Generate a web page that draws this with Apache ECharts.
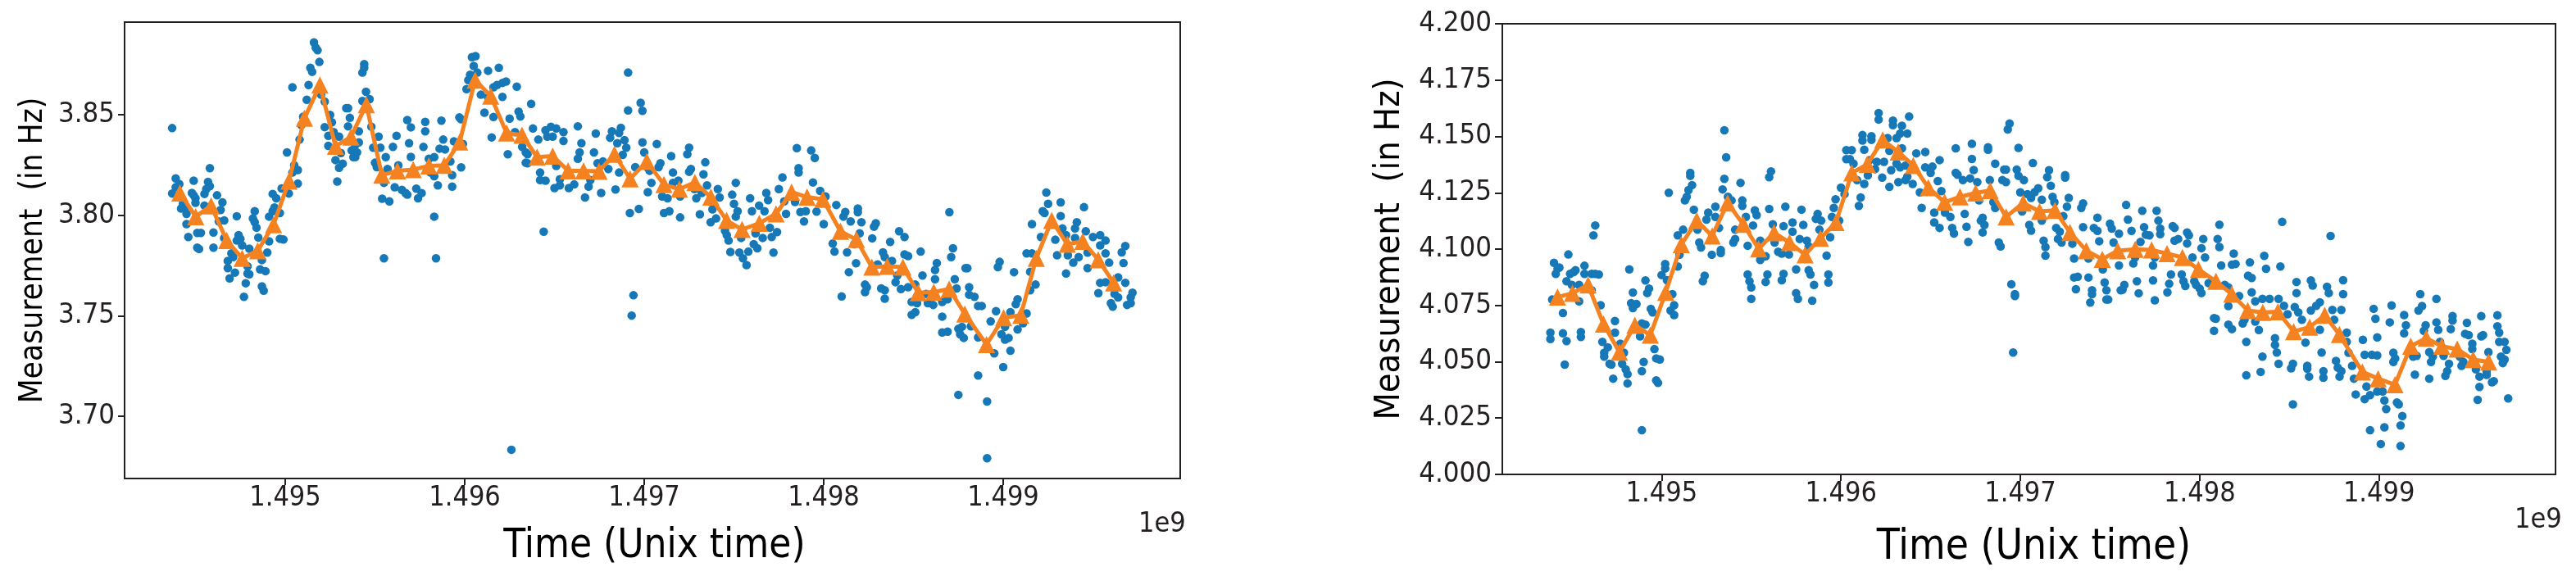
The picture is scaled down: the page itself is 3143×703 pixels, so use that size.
<!DOCTYPE html>
<html><head><meta charset="utf-8">
<style>html,body{margin:0;padding:0;background:#fff}#c{width:3143px;height:703px}</style>
<script src="https://cdn.jsdelivr.net/npm/echarts@6/dist/echarts.min.js"></script>
</head><body><div id="c"></div>
<script>
const xTicks=[1.495,1.496,1.497,1.498,1.499];
const leftYTicks=[3.70,3.75,3.80,3.85];
const rightYTicks=[4.000,4.025,4.050,4.075,4.100,4.125,4.150,4.175,4.200];

const leftMeanTime=[1.494413,1.494501,1.494587,1.494674,1.494760,1.494846,1.494935,1.495021,1.495107,1.495193,1.495280,1.495366,1.495452,1.495538,1.495625,1.495713,1.495800,1.495886,1.495972,1.496058,1.496145,1.496233,1.496319,1.496403,1.496490,1.496576,1.496662,1.496748,1.496834,1.496921,1.497014,1.497110,1.497196,1.497282,1.497371,1.497459,1.497545,1.497641,1.497734,1.497821,1.497907,1.497995,1.498093,1.498182,1.498268,1.498354,1.498441,1.498527,1.498613,1.498699,1.498786,1.498907,1.499002,1.499098,1.499184,1.499270,1.499357,1.499443,1.499529,1.499615];
const leftMeanHz=[3.8111,3.7993,3.8047,3.7874,3.7786,3.7823,3.7953,3.8170,3.8482,3.8647,3.8343,3.8389,3.8550,3.8199,3.8221,3.8227,3.8245,3.8248,3.8364,3.8672,3.8592,3.8409,3.8398,3.8289,3.8294,3.8221,3.8221,3.8219,3.8303,3.8181,3.8267,3.8152,3.8130,3.8163,3.8090,3.7974,3.7929,3.7960,3.8007,3.8115,3.8090,3.8079,3.7920,3.7879,3.7742,3.7746,3.7742,3.7615,3.7618,3.7633,3.7509,3.7357,3.7490,3.7503,3.7786,3.7974,3.7856,3.7870,3.7779,3.7664];

const rightMeanTime=[1.494420,1.494503,1.494590,1.494676,1.494765,1.494851,1.494937,1.495023,1.495110,1.495196,1.495282,1.495368,1.495455,1.495541,1.495627,1.495713,1.495800,1.495886,1.495972,1.496061,1.496147,1.496233,1.496319,1.496403,1.496487,1.496578,1.496664,1.496751,1.496832,1.496921,1.497016,1.497107,1.497193,1.497277,1.497368,1.497457,1.497543,1.497641,1.497732,1.497818,1.497904,1.497993,1.498091,1.498179,1.498268,1.498352,1.498436,1.498524,1.498613,1.498697,1.498779,1.498907,1.498995,1.499089,1.499177,1.499263,1.499350,1.499436,1.499525,1.499611];
const rightMeanHz=[4.0787,4.0804,4.0841,4.0667,4.0543,4.0662,4.0618,4.0808,4.1020,4.1126,4.1058,4.1205,4.1110,4.1001,4.1073,4.1029,4.0975,4.1048,4.1118,4.1338,4.1376,4.1485,4.1431,4.1371,4.1273,4.1208,4.1232,4.1249,4.1260,4.1143,4.1205,4.1167,4.1172,4.1074,4.0993,4.0955,4.0993,4.0999,4.0996,4.0980,4.0963,4.0910,4.0857,4.0800,4.0727,4.0719,4.0722,4.0634,4.0654,4.0706,4.0621,4.0455,4.0425,4.0398,4.0569,4.0605,4.0569,4.0556,4.0510,4.0499];

const leftDotTime=[1.49437,1.49439,1.49441,1.49437,1.49439,1.49442,1.49444,1.49445,1.49446,1.49443,1.49445,1.49449,1.49448,1.49449,1.4945,1.4945,1.49451,1.49453,1.49451,1.49452,1.49455,1.49457,1.49458,1.49456,1.49458,1.49455,1.49462,1.49465,1.49464,1.49463,1.49466,1.4946,1.4946,1.49466,
1.4947,1.49471,1.49468,1.49468,1.49469,1.49472,1.49473,1.49474,1.49473,1.49475,1.49476,1.49477,1.49478,1.49479,1.4948,1.49479,1.4948,1.49483,1.49482,1.49483,1.49484,1.49485,1.4949,1.49487,1.49486,1.49489,1.49487,1.49488,1.49491,
1.49493,1.49495,1.49494,1.49493,1.49497,1.49491,1.49497,1.49499,1.49501,1.49498,1.49502,1.49504,1.49508,1.49505,1.49507,1.49504,1.49507,1.4951,1.49509,
1.49512,1.49513,1.49514,1.49515,1.49516,1.49517,1.49518,1.49519,1.4952,1.49522,1.49525,1.49526,1.49522,1.49524,1.49527,1.4953,1.49524,1.49531,1.49528,1.4953,1.49532,1.49529,
1.49534,1.49535,1.49536,1.49535,1.49541,1.49541,1.49539,1.49537,1.4954,1.49538,1.49539,1.49543,1.49544,1.49544,1.49543,1.49545,1.49547,1.49548,1.49549,1.49552,1.49553,
1.4955,1.49551,1.49555,1.49556,1.49554,1.49558,1.49555,1.4956,1.49562,1.49557,1.49561,1.49565,1.49567,1.49568,1.49563,1.49568,1.4957,1.49569,1.4957,1.49577,1.49578,1.49578,1.49587,1.49588,1.49586,1.49589,1.49583,1.49584,1.49585,1.49583,1.49581,1.49574,1.49573,1.49576,1.4958,1.49583,1.49592,1.49593,1.49593,1.49598,1.49597,1.49598,1.49594,1.49599,
1.49601,1.49602,1.49603,1.49604,1.49606,1.49605,1.49607,1.49613,1.49619,1.49609,1.49613,1.49616,1.49618,1.49621,1.49623,1.49629,1.49621,1.49611,1.49616,1.49615,1.49625,1.4963,1.49631,1.49637,1.49624,1.49628,1.49632,1.49634,1.49635,1.49634,1.49635,1.49638,1.49641,1.49644,1.49626,
1.49645,1.49648,1.49651,1.49655,1.49646,1.49649,1.49655,1.49663,1.49673,1.49665,1.49664,1.49663,1.49642,1.49642,1.49645,1.4965,1.49653,1.49653,1.49651,1.49658,1.49661,1.49667,1.49669,1.4967,1.49674,1.49677,1.49676,1.49684,1.49686,1.4968,1.49672,1.49681,1.49682,1.49686,1.49687,1.49685,1.49689,1.4969,1.49688,1.49691,1.49691,1.49692,1.49697,1.49694,1.49693,1.49698,1.49699,1.49695,1.49699,1.49702,1.497,
1.49707,1.49715,1.49703,1.49704,1.49702,1.49709,1.49708,1.49716,1.49716,1.4971,1.49713,1.49711,1.49714,1.4972,1.4972,1.49719,1.49725,1.49724,1.49726,1.49725,1.49734,1.49733,1.49728,1.49729,1.49732,1.49731,1.49735,
1.49741,1.49742,1.49738,1.4974,1.49737,1.49751,1.49749,1.4975,1.49752,1.49751,1.49745,1.49746,1.49748,1.49747,1.49753,1.49758,1.49755,1.49757,1.49754,1.49759,1.4976,1.49761,1.49763,1.49766,1.49764,1.49768,1.49769,1.49767,1.49762,1.49771,1.49772,1.49774,1.4977,1.49775,1.49777,1.49779,1.49778,
1.49785,1.49786,1.49786,1.49784,1.49787,1.4979,1.49789,1.49793,1.49795,1.49794,1.49798,1.49801,1.49796,1.498,1.49805,1.49807,1.49812,1.49811,1.49806,1.49813,1.4981,1.49814,1.49818,1.49819,1.49819,1.49815,1.49821,1.4982,1.49817,
1.49829,1.49828,1.49827,1.49833,1.49834,1.4983,1.49842,1.49845,1.49837,1.49838,1.49847,1.49845,1.49854,1.49823,1.49824,1.49823,1.49832,1.49834,1.49834,1.49841,1.4984,1.49843,1.49847,
1.49855,1.49851,1.49863,1.49862,1.49862,1.49857,1.49852,1.49849,1.49858,1.49861,1.49851,1.49849,1.49866,1.4987,1.49872,1.49871,1.49879,1.4988,1.49873,1.49874,1.49869,1.49866,1.49881,1.49881,1.49884,1.49886,1.49888,1.49866,1.49869,1.49875,1.49877,1.49876,1.49878,1.49882,1.49886,
1.49875,1.49886,1.49891,1.49891,1.49895,1.499,1.49904,1.49896,1.49893,1.49898,1.49897,1.49906,1.49915,1.49913,1.49916,1.49916,1.49908,1.49907,1.49913,1.49904,1.49901,1.49899,1.49901,1.49903,1.49908,1.49911,
1.49918,1.49915,1.49921,1.49922,1.49923,1.49925,1.49924,1.49932,1.49932,1.49933,1.49935,1.49929,1.4993,1.49936,1.49935,1.49939,1.49942,1.49941,1.4994,1.49946,1.49945,1.4994,1.49947,1.49947,1.4995,1.49954,1.49957,1.49954,1.49957,1.49959,1.49953,1.49954,1.49957,1.49964,1.49967,1.49966,1.49968,1.49968,1.49972,1.49971,1.49971,1.49969,1.49964,1.49962,1.4996,1.49961];
const leftDotHz=[3.8433,3.8183,3.8155,3.8108,3.8139,3.8033,3.8033,3.7956,3.7892,3.8057,3.8007,3.8172,3.8111,3.8099,3.8084,3.8062,3.7912,3.7912,3.7839,3.7832,3.8106,3.8166,3.8234,3.8130,3.8144,3.8048,3.8099,3.8064,3.8026,3.7969,3.7974,3.7914,3.7839,3.7887,
3.7810,3.7792,3.7773,3.7737,3.7686,3.7715,3.7995,3.7901,3.7874,3.7883,3.7850,3.7594,3.7662,3.7710,3.7706,3.7746,3.7834,3.8020,3.7984,3.7965,3.7938,3.7889,3.7814,3.7777,3.7731,3.7722,3.7646,3.7625,3.7870,
3.8106,3.8084,3.8038,3.8020,3.8011,3.7993,3.7883,3.7879,3.8312,3.8133,3.8108,3.8636,3.8376,3.8248,3.8225,3.8212,3.8157,3.8490,3.8449,
3.8574,3.8647,3.8733,3.8713,3.8859,3.8833,3.8820,3.8762,3.8599,3.8565,3.8499,3.8462,3.8438,3.8395,3.8413,3.8391,3.8345,3.8309,3.8274,3.8236,3.8256,3.8168,
3.8532,3.8532,3.8484,3.8442,3.8417,3.8362,3.8349,3.8322,3.8312,3.8289,3.8289,3.8568,3.8751,3.8733,3.8709,3.8614,3.8577,3.8440,3.8336,3.8391,3.8336,
3.8261,3.8239,3.8161,3.8289,3.8082,3.8069,3.7786,3.8340,3.8395,3.8230,3.8139,3.8126,3.8111,3.8102,3.8248,3.8473,3.8437,3.8358,3.8290,3.8340,3.8464,3.8417,3.8470,3.8376,3.8331,3.8327,3.7993,3.7786,3.8148,3.8194,3.8212,3.8084,3.8132,3.8110,3.8281,3.8289,3.8267,3.8199,3.8142,3.8238,3.8486,3.8477,3.8367,3.8354,
3.8627,3.8672,3.8698,3.8786,3.8791,3.8742,3.8709,3.8718,3.8733,3.8599,3.8586,3.8636,3.8647,3.8658,3.8665,3.8639,3.8588,3.8510,3.8488,3.8387,3.8480,3.8515,3.8491,3.8554,3.8303,3.8413,3.8340,3.8312,3.8303,3.8261,3.8258,3.8431,3.8376,3.7918,3.6834,
3.8422,3.8440,3.8431,3.8413,3.8391,3.8391,3.8369,3.8442,3.8406,3.8358,3.8312,3.8281,3.8212,3.8175,3.8172,3.8135,3.8148,3.8179,3.8245,3.8135,3.8153,3.8088,3.8142,3.8175,3.8258,3.8267,3.8111,3.8128,3.8212,3.8230,3.8312,3.8385,3.8417,3.8409,3.8435,3.8358,3.8373,3.8336,3.8300,3.8709,3.8521,3.8011,3.8031,3.7602,3.7501,3.8559,3.8519,3.8239,3.8362,3.8236,3.8312,
3.8354,3.8294,3.8221,3.8161,3.8115,3.8258,3.8239,3.8212,3.8161,3.8093,3.8084,3.8011,3.8020,3.7989,3.8093,3.8172,3.8336,3.8303,3.8230,3.8216,3.8263,3.8203,3.8130,3.8084,3.8111,3.8005,3.8148,
3.8130,3.8088,3.8029,3.7984,3.7965,3.8161,3.8102,3.8057,3.8020,3.7993,3.7923,3.7901,3.7817,3.7874,3.7814,3.7819,3.7786,3.7752,3.7887,3.8084,3.8020,3.7856,3.7836,3.7887,3.8048,3.8111,3.8075,3.8020,3.7910,3.7892,3.7814,3.7916,3.7938,3.8130,3.8188,3.8007,3.8069,
3.8334,3.8234,3.8212,3.8066,3.8016,3.8020,3.7969,3.8322,3.8285,3.8163,3.8121,3.8093,3.8018,3.7956,3.7859,3.8051,3.8016,3.7993,3.7819,3.7815,3.7596,3.7717,3.7761,3.8033,3.8015,3.7969,3.7965,3.7910,3.7856,
3.7960,3.7943,3.7885,3.7815,3.7792,3.7755,3.7920,3.7892,3.7867,3.7773,3.7797,3.7805,3.7819,3.7655,3.7642,3.7618,3.7636,3.7627,3.7585,3.7700,3.7667,3.7633,3.7642,
3.7700,3.7655,3.7762,3.7728,3.7682,3.7609,3.7563,3.7569,3.7563,3.7554,3.7518,3.7505,3.7496,3.8015,3.7836,3.7792,3.7737,3.7737,3.7682,3.7636,3.7582,3.7569,3.7642,3.7605,3.7594,3.7549,3.7549,3.7417,3.7421,3.7435,3.7445,3.7408,3.7390,3.7448,3.7393,
3.7107,3.7203,3.7074,3.6792,3.7313,3.7245,3.7326,3.7523,3.7472,3.7768,3.7742,3.7717,3.7719,3.7810,3.7810,3.7956,3.7582,3.7558,3.7512,3.7518,3.7445,3.7408,3.7381,3.7390,3.7432,3.7463,
3.7655,3.7627,3.7892,3.8020,3.8011,3.8057,3.8113,3.8064,3.7996,3.7934,3.7901,3.7878,3.7801,3.7801,3.7710,3.7764,3.7792,3.7965,3.7934,3.7920,3.8040,3.7887,3.7814,3.7737,3.7892,3.7901,3.7874,3.7850,3.7810,3.7764,3.7613,3.7664,3.7667,3.7691,3.7762,3.7815,3.7847,3.7664,3.7615,3.7591,3.7563,3.7554,3.7591,3.7609,3.7563,3.7545];

const rightDotTime=[1.49438,1.49438,1.49439,1.4944,1.49441,1.49442,1.49443,1.49448,1.49445,1.49445,1.49447,1.49446,1.49455,1.49455,1.49449,1.49451,1.49452,1.49447,1.4945,1.49454,1.49454,1.49457,1.49457,1.49461,1.49463,1.49465,1.49461,1.49463,1.49462,1.49466,
1.49467,1.49468,1.4947,1.49468,1.49471,1.49472,1.49473,1.49474,1.49474,1.49477,1.49479,1.49478,1.4948,1.49481,1.49481,1.49482,1.49484,1.49483,1.49484,1.49486,1.49488,1.49489,1.49491,1.4949,1.49489,1.49489,1.49491,1.49493,1.49492,1.49494,1.49495,1.49496,1.49497,1.49499,1.49497,1.49498,
1.495,1.49502,1.49502,1.49503,1.49504,1.49506,1.49507,1.49505,1.49507,1.49509,1.4951,1.49509,1.49512,1.49513,1.49514,1.49515,1.49516,1.49516,1.49517,1.49518,1.4952,1.49521,1.49522,1.49528,1.49525,1.49526,1.4953,1.4953,1.49532,1.49524,1.49523,1.49533,1.49533,
1.49535,1.49536,1.49535,1.49534,1.49537,1.49539,1.49541,1.49541,1.4954,1.49544,1.49545,1.49545,1.49547,1.49548,1.49551,1.49552,1.49553,1.49548,1.49549,1.4955,1.4955,1.49555,1.49555,1.49558,1.49559,1.49558,1.4956,1.4956,1.49561,1.49562,1.49563,1.49565,1.49568,1.49567,1.49569,1.49568,1.49573,1.49573,1.49567,1.49571,1.49575,1.49575,1.49576,1.49578,1.49579,1.49577,1.49581,1.49582,1.49582,1.49583,1.49585,1.49584,1.49587,1.49586,1.49589,1.49588,1.49592,1.49594,1.49593,1.49593,
1.49597,1.49596,1.49595,1.496,1.49602,1.49599,1.49603,1.49606,1.49603,1.49605,1.49607,1.49609,1.49613,1.49611,1.4961,1.49612,1.49612,1.49613,1.49615,1.49617,1.49617,1.49616,1.4962,1.49621,1.49621,1.49623,1.49619,1.49624,1.49626,1.49627,1.49627,1.49628,1.49629,1.49629,1.49634,1.49631,1.49633,1.49637,1.49638,1.49631,1.49633,1.49636,1.49632,1.49636,1.49637,1.49634,1.49642,1.4964,1.49644,1.49645,1.49647,1.49647,1.49651,1.4965,1.49652,1.49652,1.49654,1.49655,1.49656,1.49658,1.49661,1.49655,1.49662,1.49663,1.49664,1.49664,1.49665,1.49668,1.49669,1.4967,
1.49671,1.49673,1.49673,1.49674,1.49672,1.49676,1.49677,1.49678,1.49679,1.4968,1.49679,1.49682,1.49682,1.49686,1.49683,1.4969,1.49691,1.49692,1.49692,1.49685,1.49686,1.49688,1.49689,1.49693,1.49694,1.49699,1.49698,1.49699,1.49702,1.497,1.49704,1.49701,1.49705,1.49706,1.49695,1.49697,1.49697,1.49696,
1.49707,1.49706,1.49708,1.4971,1.49712,1.49712,1.49713,1.49714,1.49714,1.49716,1.49715,1.49717,1.49718,1.49719,1.49725,1.49725,1.49727,1.49726,1.49724,1.4972,1.49722,1.49721,1.49723,1.49729,1.4973,1.49734,1.49735,1.49735,1.49741,1.49743,1.49743,1.49744,1.49738,1.4973,1.49732,1.49731,1.49738,1.4974,1.4974,1.49739,1.49747,1.49748,1.49748,1.49749,
1.49759,1.4976,1.49762,1.4975,1.49751,1.49755,1.49752,1.49755,1.49746,1.49763,1.49764,1.49768,1.49776,1.49777,1.49769,1.4977,1.49772,1.49778,1.49778,1.49767,1.49765,1.49766,1.49774,1.49775,1.49758,1.49757,1.49756,1.49774,1.49775,
1.49785,1.49786,1.49788,1.49786,1.49793,1.49794,1.49793,1.49784,1.49783,1.49782,1.4979,1.49791,1.49792,1.49796,1.49802,1.49801,1.49803,1.49797,1.49798,1.498,1.49801,1.49805,1.4981,1.49811,1.49811,1.49812,1.49818,1.4982,1.49819,1.49814,1.49816,1.49816,
1.49808,1.49809,1.49808,1.49816,1.49818,1.49824,1.49825,1.49826,1.49828,1.49827,1.49829,1.49836,1.49837,1.49845,1.49846,1.49829,1.49831,1.49831,1.49833,1.49835,1.49839,1.49844,1.49822,1.49826,1.49834,1.49835,1.49842,1.49842,1.49843,1.49844,
1.49847,1.49849,1.49852,1.49851,1.49852,1.49853,1.49854,1.49854,1.49855,1.49859,1.49857,1.4986,1.4986,1.49861,1.49862,1.49863,1.49867,1.49868,1.49869,1.49869,1.49871,1.49872,1.49873,1.4988,1.4988,1.49879,1.49874,1.49867,1.49865,1.49862,1.49875,1.49876,1.49877,1.49878,1.49879,
1.49882,1.49882,1.49883,1.49885,1.49886,1.49887,1.49891,1.49892,1.49892,1.49893,1.49895,1.49896,1.49899,1.49897,1.49898,1.49899,1.49899,1.49902,1.49903,1.49904,1.49895,1.49901,1.49903,1.49907,1.49906,1.49908,1.49909,1.49908,1.4991,1.49911,1.49912,1.49913,1.49912,1.49914,1.49915,1.49914,
1.4992,1.49921,1.49919,1.49923,1.49924,1.49922,1.49926,1.49925,1.49928,1.49928,1.4993,1.49929,1.49932,1.49932,1.49933,1.49934,1.49936,1.49938,1.49937,1.49939,1.4994,1.49941,1.49941,1.49948,1.49949,1.4995,1.49952,1.49952,1.49945,1.49946,1.49947,1.49954,1.49955,1.49956,1.49956,1.49957,1.49958,1.49957,1.4996,1.4996,1.49961,1.49963,1.49964,1.49966,1.49966,1.49967,1.49967,1.4997,1.49971,1.49968,1.4997,1.49969,1.49972];
const rightDotHz=[4.0629,4.0601,4.0776,4.0939,4.0890,4.0914,4.0918,4.0976,4.0716,4.0626,4.0592,4.0487,4.0632,4.0610,4.0890,4.0898,4.0906,4.0857,4.0841,4.0841,4.0768,4.0926,4.0890,4.0890,4.0890,4.0887,4.0817,4.1105,4.1061,4.0751,
4.0588,4.0523,4.0564,4.0540,4.0491,4.0487,4.0425,4.0681,4.0629,4.0580,4.0540,4.0491,4.0466,4.0445,4.0404,4.0910,4.0807,4.0760,4.0738,4.0756,4.0613,4.0670,4.0665,4.0499,4.0458,4.0196,4.0861,4.0825,4.0805,4.0735,4.0719,4.0556,4.0515,4.0510,4.0417,4.0406,
4.0885,4.0934,4.0914,4.0862,4.1250,4.0800,4.0751,4.0727,4.0707,4.0923,4.0975,4.1061,4.1086,4.1216,4.1232,4.1262,4.1338,4.1325,4.1284,4.1175,4.1086,4.1029,4.1007,4.0975,4.1131,4.1162,4.1188,4.1143,4.1094,4.0882,4.0857,4.0996,4.0983,
4.1527,4.1407,4.1312,4.1265,4.1232,4.1216,4.1086,4.1045,4.1029,4.1294,4.1216,4.1192,4.1143,4.1015,4.1105,4.1172,4.1151,4.0887,4.0857,4.0830,4.0779,4.1037,4.0952,4.0968,4.0887,4.0854,4.1178,4.1319,4.1345,4.1110,4.1029,4.0988,4.0890,4.0862,4.1188,4.1102,4.1077,4.1118,4.0980,4.0976,4.0910,4.0805,4.0779,4.1175,4.1107,4.1045,4.1037,4.1012,4.0906,4.0887,4.0841,4.0771,4.1156,4.1134,4.1126,4.1086,4.0971,4.1053,4.0887,4.0852,
4.1221,4.1183,4.1143,4.1273,4.1244,4.1126,4.1439,4.1439,4.1399,4.1399,4.1379,4.1306,4.1289,4.1229,4.1192,4.1506,4.1482,4.1441,4.1327,4.1501,4.1485,4.1395,4.1387,4.1604,4.1575,4.1317,4.1355,4.1387,4.1493,4.1436,4.1276,4.1350,4.1570,4.1550,4.1547,4.1493,4.1513,4.1513,4.1588,4.1379,4.1363,4.1371,4.1297,4.1306,4.1322,4.1447,4.1425,4.1289,4.1252,4.1183,4.1431,4.1363,4.1366,4.1338,4.1162,4.1118,4.1302,4.1395,4.1257,4.1162,4.1143,4.1094,4.1094,4.1069,4.1447,4.1338,4.1330,4.1306,4.1156,4.1099,
4.1032,4.1467,4.1400,4.1351,4.1314,4.1297,4.1216,4.1126,4.1139,4.1107,4.1074,4.1452,4.1441,4.1379,4.1306,4.1306,4.1353,4.1353,4.1297,4.1208,4.1183,4.1029,4.1012,4.1531,4.1557,4.1449,4.1353,4.1325,4.1306,4.1252,4.1244,4.1167,4.1107,4.1082,4.0844,4.0800,4.0792,4.0541,
4.1382,4.1227,4.1253,4.1270,4.1219,4.1126,4.1037,4.1009,4.0971,4.1350,4.1319,4.1281,4.1232,4.1208,4.1328,4.1317,4.1227,4.1188,4.1146,4.1094,4.1077,4.1045,4.1029,4.1024,4.0958,4.1183,4.1203,4.1097,4.1094,4.1139,4.1081,4.1035,4.0958,4.0874,4.0877,4.0822,4.0874,4.0817,4.0800,4.0763,4.0852,4.0817,4.0776,4.0776,
4.1196,4.1131,4.1081,4.1113,4.1091,4.1068,4.1029,4.0927,4.0910,4.0936,4.0963,4.1170,4.1170,4.1126,4.1097,4.1064,4.1061,4.1066,4.1091,4.1032,4.0857,4.0804,4.0861,4.0773,4.0841,4.0820,4.0817,4.0927,4.0963,
4.1102,4.1094,4.1045,4.1037,4.1074,4.1061,4.1025,4.0887,4.0846,4.0808,4.0887,4.0857,4.0836,4.0963,4.1045,4.1004,4.0963,4.0857,4.0841,4.0825,4.0805,4.0849,4.1045,4.1108,4.1009,4.0927,4.0931,4.0934,4.0980,4.0841,4.0830,4.0747,
4.0694,4.0691,4.0637,4.0665,4.0645,4.0670,4.0686,4.0588,4.0941,4.0882,4.0872,4.0970,4.0913,4.0923,4.1121,4.0808,4.0768,4.0678,4.0641,4.0779,4.0779,4.0779,4.0792,4.0440,4.0455,4.0523,4.0575,4.0605,4.0541,4.0491,
4.0748,4.0711,4.0311,4.0471,4.0491,4.0743,4.0854,4.0805,4.0719,4.0585,4.0686,4.0482,4.0469,4.0434,4.0861,4.0838,4.0642,4.0541,4.0458,4.0429,4.0833,4.0805,4.1058,4.0862,4.0800,4.0730,4.0730,4.0764,4.0748,4.0727,4.0686,4.0504,4.0474,4.0434,4.0458,
4.0629,4.0588,4.0540,4.0482,4.0425,4.0355,4.0597,4.0334,4.0531,4.0390,4.0352,4.0531,4.0528,4.0735,4.0691,4.0608,4.0368,4.0368,4.0328,4.0290,4.0196,4.0135,4.0209,4.0750,4.0675,4.0540,4.0515,4.0499,4.0319,4.0311,4.0217,4.0259,4.0126,4.0707,4.0662,4.0626,
4.0443,4.0526,4.0523,4.0800,4.0747,4.0727,4.0662,4.0637,4.0425,4.0543,4.0523,4.0499,4.0779,4.0675,4.0642,4.0588,4.0526,4.0458,4.0437,4.0491,4.0645,4.0703,4.0683,4.0624,4.0673,4.0618,4.0580,4.0556,4.0523,4.0482,4.0499,4.0466,4.0331,4.0388,4.0434,4.0613,4.0618,4.0703,4.0458,4.0442,4.0543,4.0409,4.0414,4.0706,4.0657,4.0629,4.0588,4.0588,4.0553,4.0523,4.0510,4.0494,4.0337];

const INK='#231f20', BLUE='#1778b7', ORANGE='#f58220', FONT='"DejaVu Sans Condensed","DejaVu Sans"';
const zip=(a,b)=>a.slice(0,Math.min(a.length,b.length)).map((v,i)=>[v,b[i]]);
function xAxis(gridIndex,min,max,nameSize,gap,margin,nudge){return {type:'value',gridIndex,min,max,scale:true,
  name:'Time (Unix time)',nameLocation:'middle',nameGap:gap,
  nameTextStyle:{fontFamily:FONT,fontSize:nameSize,color:'#000',padding:[0,0,0,nudge]},
  axisLine:{show:false},splitLine:{show:false},
  axisTick:{show:true,length:8,lineStyle:{color:INK,width:2},customValues:xTicks},
  axisLabel:{show:true,fontFamily:FONT,fontSize:34,color:INK,margin,customValues:xTicks,formatter:v=>v.toFixed(3)}};}
function yAxis(gridIndex,min,max,ticks,dec,nameSize,gap,tick,margin){return {type:'value',gridIndex,min,max,scale:true,
  name:'Measurement  (in Hz)',nameLocation:'middle',nameGap:gap,
  nameTextStyle:{fontFamily:FONT,fontSize:nameSize,color:'#000'},
  axisLine:{show:false},splitLine:{show:false},
  axisTick:{show:true,length:tick,lineStyle:{color:INK,width:2},customValues:ticks},
  axisLabel:{show:true,fontFamily:FONT,fontSize:34.5,color:INK,margin,customValues:ticks,formatter:v=>v.toFixed(dec)}};}
function dots(i,d){return {type:'scatter',xAxisIndex:i,yAxisIndex:i,data:d,symbol:'circle',symbolSize:10.5,itemStyle:{color:BLUE,opacity:1},z:2,silent:true};}
function mean(i,d){return {type:'line',xAxisIndex:i,yAxisIndex:i,data:d,symbol:'triangle',symbolSize:[21,21],showSymbol:true,showAllSymbol:true,lineStyle:{color:ORANGE,width:5},itemStyle:{color:ORANGE,opacity:1},z:3,silent:true};}

const chart=echarts.init(document.getElementById('c'),null,{renderer:'canvas'});
chart.setOption({animation:false,backgroundColor:'#fff',
  grid:[
    {left:152,top:27,width:1288,height:557,show:true,borderColor:INK,borderWidth:2,backgroundColor:'#fff',containLabel:false},
    {left:1833,top:29,width:1285,height:550,show:true,borderColor:INK,borderWidth:2,backgroundColor:'#fff',containLabel:false}],
  xAxis:[xAxis(0,1.494105,1.499986,49,59,7,5),xAxis(1,1.494112,1.499984,51,64,7,12)],
  yAxis:[yAxis(0,3.6691,3.8960,leftYTicks,2,38.5,92,8,12),yAxis(1,4.0,4.2,rightYTicks,3,43,116,9,13)],
  series:[dots(0,zip(leftDotTime,leftDotHz)),mean(0,zip(leftMeanTime,leftMeanHz)),dots(1,zip(rightDotTime,rightDotHz)),mean(1,zip(rightMeanTime,rightMeanHz))],
  graphic:[
    {type:'text',left:1389,top:623,style:{text:'1e9',fontFamily:FONT,fontSize:34,fill:INK}},
    {type:'text',left:3068,top:618,style:{text:'1e9',fontFamily:FONT,fontSize:34,fill:INK}}]
});
</script></body></html>
